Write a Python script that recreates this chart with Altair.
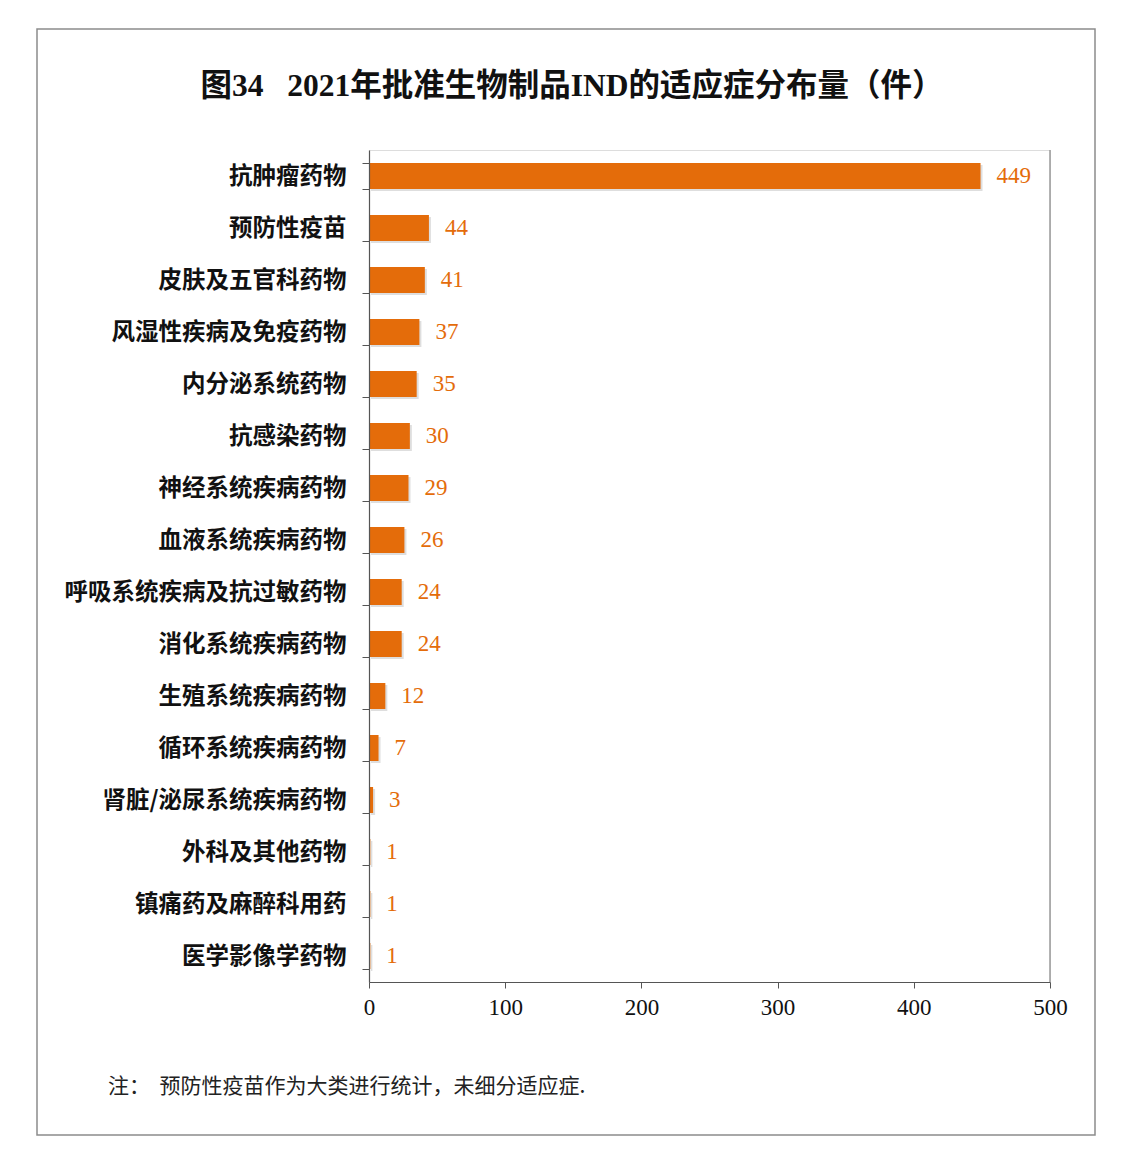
import altair as alt
import pandas as pd

categories = [
    "抗肿瘤药物", "预防性疫苗", "皮肤及五官科药物", "风湿性疾病及免疫药物",
    "内分泌系统药物", "抗感染药物", "神经系统疾病药物", "血液系统疾病药物",
    "呼吸系统疾病及抗过敏药物", "消化系统疾病药物", "生殖系统疾病药物",
    "循环系统疾病药物", "肾脏/泌尿系统疾病药物", "外科及其他药物",
    "镇痛药及麻醉科用药", "医学影像学药物",
]
counts = [449, 44, 41, 37, 35, 30, 29, 26, 24, 24, 12, 7, 3, 1, 1, 1]
x_ticks = [0, 100, 200, 300, 400, 500]

title_text = "图34\u00a0\u00a0 2021年批准生物制品IND的适应症分布量（件）"
note_text = "注：\u00a0 预防性疫苗作为大类进行统计，未细分适应症."

ORANGE = "#E46C0A"
CJK = "Noto Sans CJK SC"
NUM = "Liberation Serif, DejaVu Serif, serif"
W, H = 681, 832

df = pd.DataFrame({"category": categories, "count": counts})

y_enc = alt.Y(
    "category:N",
    sort=categories,
    title=None,
    scale=alt.Scale(paddingInner=0.5, paddingOuter=0.25),
    axis=alt.Axis(
        labelFont=CJK, labelFontSize=23.5, labelFontWeight=600, labelColor="#111",
        labelPadding=16, labelLimit=400, tickBand="extent", tickSize=7,
        tickColor="#555", domainColor="#555", domainWidth=1.2, zindex=1,
    ),
)
x_enc = alt.X(
    "count:Q",
    title=None,
    scale=alt.Scale(domain=[0, 500], nice=False),
    axis=alt.Axis(
        values=x_ticks, labelFont=NUM, labelFontSize=23, labelColor="#111",
        labelPadding=8, labelFlush=False, tickSize=6, tickColor="#555",
        domainColor="#555", domainWidth=1.2, grid=False, zindex=1,
    ),
)

base = alt.Chart(df).encode(x=x_enc, y=y_enc)

shadow = base.mark_bar(color="#c8c8c8", opacity=0.6, xOffset=2, yOffset=2)
bars = base.mark_bar(color=ORANGE)
values = base.mark_text(
    align="left", baseline="middle", dx=16, font=NUM, fontSize=23, color=ORANGE
).encode(text="count:Q")

right_edge = alt.Chart(pd.DataFrame({"v": [0]})).mark_rule(
    color="#9a9a9a", strokeWidth=1.5
).encode(x=alt.value(W), y=alt.value(0), y2=alt.value(H))

frame = alt.Chart(pd.DataFrame({"v": [0]})).mark_rect(
    fillOpacity=0, stroke="#8c8c8c", strokeWidth=1.5
).encode(
    x=alt.value(-332), x2=alt.value(726), y=alt.value(-121), y2=alt.value(985)
)

title = alt.Chart(pd.DataFrame({"t": [title_text]})).mark_text(
    font="Liberation Serif, " + CJK, fontSize=31.5, fontWeight="bold",
    color="#111", align="center", baseline="middle",
).encode(text="t:N", x=alt.value(203), y=alt.value(-63))

note = alt.Chart(pd.DataFrame({"t": [note_text]})).mark_text(
    font=CJK, fontSize=21, color="#222", align="left", baseline="middle",
).encode(text="t:N", x=alt.value(-261), y=alt.value(937))

chart = (
    alt.layer(frame, title, note, right_edge, shadow, bars, values)
    .properties(
        width=W, height=H,
        autosize=alt.AutoSizeParams(type="none"),
        padding={"left": 361, "top": 142, "right": 70, "bottom": 170},
    )
    .configure_view(stroke=None)
    .configure(background="white")
)

chart.save("out.html", embed_options={"renderer": "svg", "actions": False})
